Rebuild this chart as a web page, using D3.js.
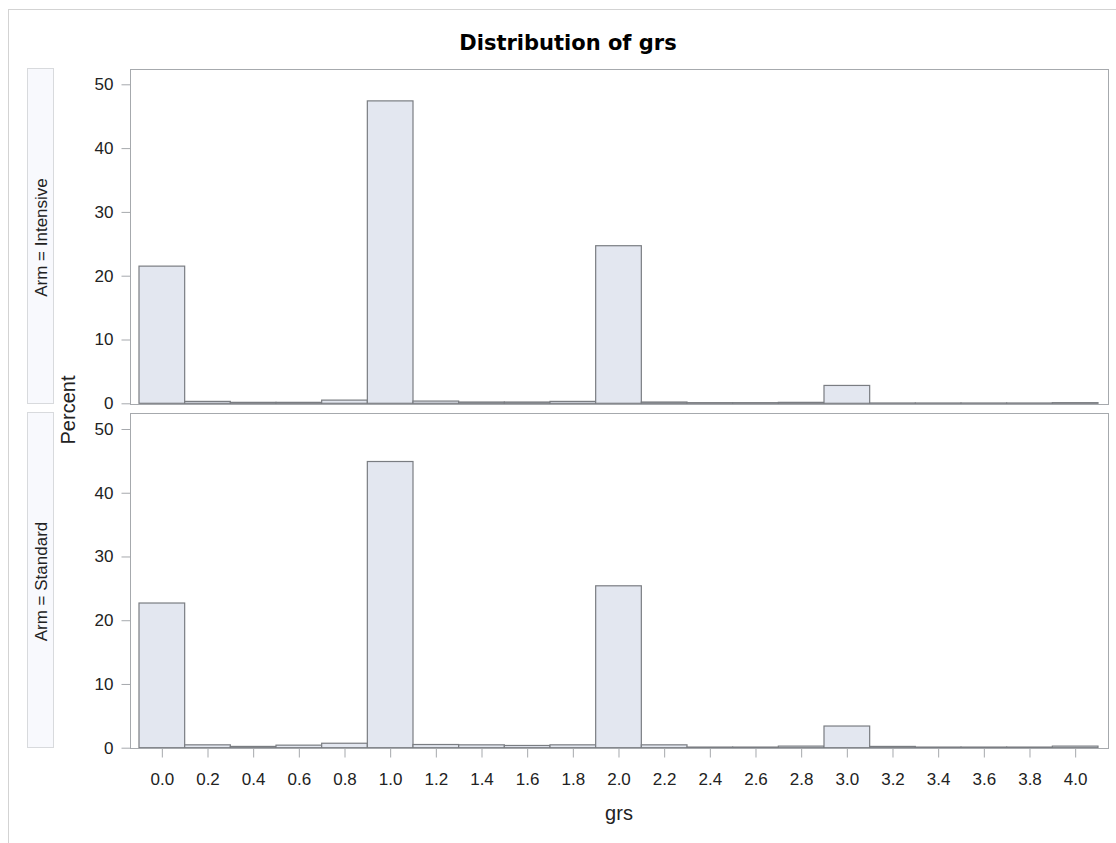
<!DOCTYPE html>
<html>
<head>
<meta charset="utf-8">
<script src="https://cdn.jsdelivr.net/npm/d3@7"></script>
<style>
  body { margin: 0; background: #fff; }
  svg { font-family: 'Liberation Sans', Arial, sans-serif; }
</style>
</head>
<body>
<div class="canvas"></div>
<script>
// bin midpoints (width 0.2)
const bins = [0.0, 0.2, 0.4, 0.6, 0.8, 1.0, 1.2, 1.4, 1.6, 1.8, 2.0,
  2.2, 2.4, 2.6, 2.8, 3.0, 3.2, 3.4, 3.6, 3.8, 4.0];
const intensive = [21.5, 0.3, 0.15, 0.15, 0.5, 47.4, 0.35, 0.2, 0.2, 0.3, 24.7,
  0.2, 0.1, 0.1, 0.15, 2.8, 0.05, 0.05, 0.05, 0.05, 0.1];
const standard = [22.7, 0.45, 0.2, 0.4, 0.7, 44.9, 0.5, 0.45, 0.35, 0.45, 25.4,
  0.45, 0.1, 0.1, 0.25, 3.4, 0.2, 0.1, 0.1, 0.1, 0.25];
const panels = ['Arm = Intensive', 'Arm = Standard'];
const yTicks = [0, 10, 20, 30, 40, 50];
const binWidth = 0.2;

const W = 1116;
const H = 843;
const FONT = "'Liberation Sans', Arial, sans-serif";

const svg = d3.select('.canvas')
  .append('svg')
  .attr('width', W)
  .attr('height', H);

// outer frame
svg.append('rect')
  .attr('x', 8.5).attr('y', 9.5)
  .attr('width', W + 20).attr('height', H + 20)
  .attr('fill', 'none')
  .attr('stroke', '#d3d3d3');

svg.append('text')
  .attr('x', 568).attr('y', 50)
  .attr('text-anchor', 'middle')
  .attr('font-family', "'DejaVu Sans', sans-serif")
  .attr('font-size', 21)
  .attr('font-weight', 'bold')
  .text('Distribution of grs');

const plotLeft = 130;
const plotRight = 1108;
const panelBox = [
  { top: 69, bottom: 404, zero: 403.3, fifty: 84.3 },
  { top: 413, bottom: 748, zero: 747.7, fifty: 429 },
];

const x = d3.scaleLinear()
  .domain([-0.1 - 9 / 228.3, 4.1 + 10 / 228.3])
  .range([plotLeft, plotRight]);

const series = [intensive, standard];

panelBox.forEach((p, i) => {
  const y = d3.scaleLinear().domain([0, 50]).range([p.zero, p.fifty]);
  const g = svg.append('g');

  // strip label
  g.append('rect')
    .attr('x', 27.5).attr('y', p.top - 0.5)
    .attr('width', 26).attr('height', p.bottom - p.top)
    .attr('fill', '#f8f9fd')
    .attr('stroke', '#d8dadd');
  g.append('text')
    .attr('transform', `translate(47, ${(p.top + p.bottom) / 2 + 1}) rotate(-90)`)
    .attr('text-anchor', 'middle')
    .attr('font-size', 17)
    .attr('fill', '#222')
    .text(panels[i]);

  // bars
  g.selectAll('rect.bar')
    .data(bins.map((b, j) => ({ b, v: series[i][j] })))
    .enter()
    .append('rect')
    .attr('class', 'bar')
    .attr('x', d => x(d.b - binWidth / 2))
    .attr('width', d => x(d.b + binWidth / 2) - x(d.b - binWidth / 2))
    .attr('y', d => y(d.v))
    .attr('height', d => y(0) - y(d.v))
    .attr('fill', '#e3e7f0')
    .attr('stroke', '#7a7d82')
    .attr('stroke-width', 1.2);

  // plot frame
  g.append('rect')
    .attr('x', plotLeft + 0.5).attr('y', p.top + 0.5)
    .attr('width', plotRight - plotLeft).attr('height', p.bottom - p.top)
    .attr('fill', 'none')
    .attr('stroke', '#a6a9ad');

  // y axis
  const yAxis = d3.axisLeft(y).tickValues(yTicks).tickSize(9).tickPadding(8);
  const ya = g.append('g')
    .attr('transform', `translate(${plotLeft + 0.5}, 0)`)
    .call(yAxis);
  ya.select('.domain').remove();
  ya.selectAll('line').attr('stroke', '#a6a9ad');
  ya.selectAll('text').attr('font-size', 17).attr('fill', '#222')
    .attr('font-family', FONT);
});

// x axis under bottom panel
const axisY = panelBox[1].bottom + 0.5;
const xAxis = d3.axisBottom(x).tickValues(bins).tickFormat(d3.format('.1f'))
  .tickSize(9);
const xa = svg.append('g')
  .attr('transform', `translate(0, ${axisY})`)
  .call(xAxis);
xa.select('.domain').remove();
xa.selectAll('line').attr('stroke', '#a6a9ad');
xa.selectAll('text').attr('font-size', 17).attr('fill', '#222')
  .attr('font-family', FONT)
  .attr('y', 785 - axisY)
  .attr('dy', null);

svg.append('text')
  .attr('x', (plotLeft + plotRight) / 2).attr('y', 820)
  .attr('text-anchor', 'middle')
  .attr('font-size', 20)
  .attr('fill', '#222')
  .text('grs');

svg.append('text')
  .attr('transform', 'translate(75, 410) rotate(-90)')
  .attr('text-anchor', 'middle')
  .attr('font-size', 20)
  .attr('fill', '#222')
  .text('Percent');
</script>
</body>
</html>
